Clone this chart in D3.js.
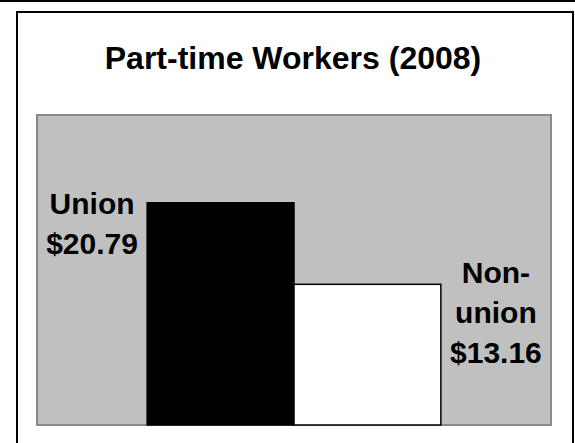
<!DOCTYPE html>
<html>
<head>
<meta charset="utf-8">
<script src="https://cdn.jsdelivr.net/npm/d3@7"></script>
<style>
  html, body { margin: 0; padding: 0; background: #fff; }
  svg { display: block; }
  text { font-family: "Liberation Sans", Arial, sans-serif; font-weight: bold; fill: #000; }
</style>
</head>
<body>
<svg></svg>
<script>
let categories = ["Union", "Non-union"];
let values = [20.79, 13.16];
let labelLines = [["Union", "$20.79"], ["Non-", "union", "$13.16"]];
let barColors = ["#000000", "#ffffff"];
let title = "Part-time Workers (2008)";

let svg_width = 575, svg_height = 443;
let svg = d3.select('svg')
    .attr("width", svg_width)
    .attr("height", svg_height);

// outer frame bits
svg.append('line')
    .attr('x1', 0).attr('x2', svg_width)
    .attr('y1', 1).attr('y2', 1)
    .attr('stroke', '#000').attr('stroke-width', 2);

// inner frame (chart area)
svg.append('rect')
    .attr('x', 17).attr('y', 12)
    .attr('width', 556).attr('height', 460)
    .attr('fill', '#fff')
    .attr('stroke', '#000').attr('stroke-width', 2);

svg.append('text')
    .attr('x', 293).attr('y', 69)
    .attr('text-anchor', 'middle')
    .style('font-size', '32px')
    .text(title);

let plot = {left: 37, right: 551, top: 115, bottom: 425};

svg.append('rect')
    .attr('x', plot.left).attr('y', plot.top)
    .attr('width', plot.right - plot.left)
    .attr('height', plot.bottom - plot.top)
    .attr('fill', '#c0c0c0')
    .attr('stroke', '#8a8a8a').attr('stroke-width', 2);

let x = d3.scaleBand()
    .domain(categories)
    .range([plot.left, plot.right])
    .paddingInner(0)
    .paddingOuter(0.75);

let y = d3.scaleLinear()
    .domain([0, 29])
    .range([plot.bottom, plot.top]);

svg.append('g')
    .selectAll('rect')
    .data(categories).enter().append('rect')
    .attr('x', d => x(d))
    .attr('y', (d, i) => y(values[i]))
    .attr('width', x.bandwidth())
    .attr('height', (d, i) => y(0) - y(values[i]))
    .attr('fill', (d, i) => barColors[i])
    .attr('stroke', '#000').attr('stroke-width', 1.5);

// labels: left of first bar, right of second bar
let labelX = [
    (plot.left + x(categories[0])) / 2,
    (x(categories[1]) + x.bandwidth() + plot.right) / 2
];
let labelY0 = [214, 283];
let lineGap = 40;

categories.forEach((c, i) => {
    svg.append('text')
        .attr('text-anchor', 'middle')
        .style('font-size', '30px')
        .selectAll('tspan')
        .data(labelLines[i]).enter().append('tspan')
        .attr('x', labelX[i])
        .attr('y', (d, j) => labelY0[i] + j * lineGap)
        .text(d => d);
});
</script>
</body>
</html>
